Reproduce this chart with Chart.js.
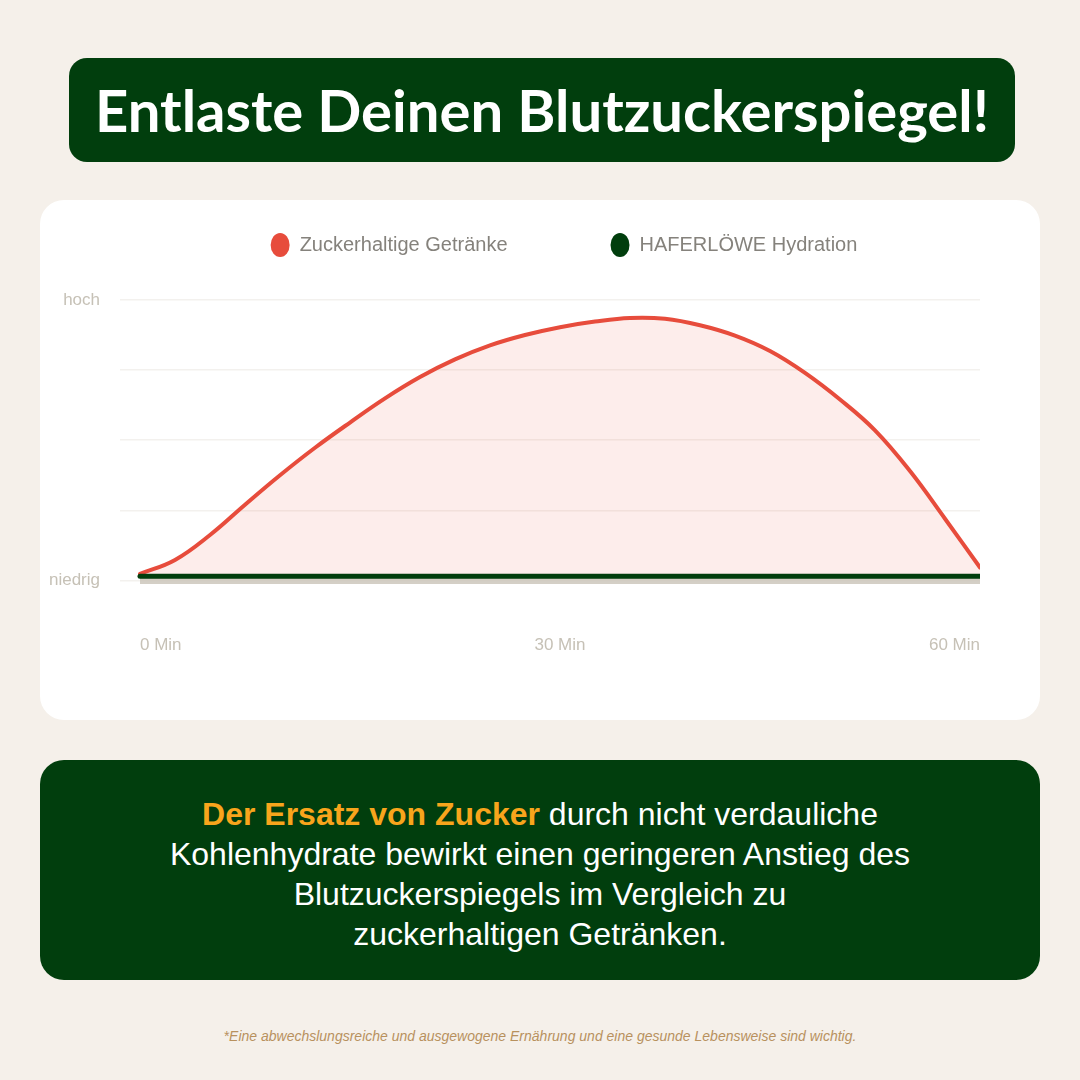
<!DOCTYPE html>
<html lang="de">
<head>
<meta charset="utf-8">
<title>Entlaste Deinen Blutzuckerspiegel!</title>
<script src="https://cdn.jsdelivr.net/npm/chart.js@4.4.1/dist/chart.umd.min.js"></script>
<style>
  html, body { margin: 0; padding: 0; }
  body {
    width: 1080px; height: 1080px; position: relative; overflow: hidden;
    background: #f5f0ea; font-family: "Liberation Sans", Arial, sans-serif;
  }
  .title {
    position: absolute; left: 69px; top: 58px; width: 946px; height: 104px;
    background: #013e0d; border-radius: 18px; color: #fff;
    display: flex; align-items: center; justify-content: center;
    font: 700 58px Lato, "Noto Sans", sans-serif; padding-bottom: 2px; box-sizing: border-box;
  }
  .card {
    position: absolute; left: 40px; top: 200px; width: 1000px; height: 520px;
    background: #fff; border-radius: 24px;
  }
  .chart-wrap { position: absolute; left: 40px; top: 132px; width: 1000px; height: 532px; }
  .note {
    position: absolute; left: 40px; top: 760px; width: 1000px; height: 220px;
    box-sizing: border-box; padding-top: 34px;
    background: #013e0d; border-radius: 24px; color: #fff;
    text-align: center; font-size: 32px; line-height: 40px;
  }
  .note b { color: #f8a51c; }
  .footer {
    position: absolute; left: 0; width: 1080px; top: 1028px;
    text-align: center; font-size: 14px; font-style: italic; color: #b8915e;
  }
</style>
</head>
<body>
<div class="title">Entlaste Deinen Blutzuckerspiegel!</div>
<div class="card"></div>
<div class="chart-wrap"><canvas id="chart"></canvas></div>
<div class="note">
  <b>Der Ersatz von Zucker</b> durch nicht verdauliche<br>
  Kohlenhydrate bewirkt einen geringeren Anstieg des<br>
  Blutzuckerspiegels im Vergleich zu<br>
  zuckerhaltigen Getränken.
</div>
<div class="footer">*Eine abwechslungsreiche und ausgewogene Ernährung und eine gesunde Lebensweise sind wichtig.</div>

<script>
// Minutes after drinking, every 2.5 minutes.
const minutes = [0, 2.5, 5, 7.5, 10, 12.5, 15, 17.5, 20, 22.5, 25, 27.5, 30,
                 32.5, 35, 37.5, 40, 42.5, 45, 47.5, 50, 52.5, 55, 57.5, 60];
const sugaryDrinks = [2.3, 7.3, 16.2, 27, 37.5, 47.3, 56.3, 64.9, 72.5, 78.8, 83.8, 87.5, 90.3,
                      92.3, 93.6, 93.3, 91.0, 87.3, 81.8, 74, 64.5, 53.5, 39, 22, 4.6];
const haferloewe = [1.5, 1.5, 1.5, 1.5, 1.5, 1.5, 1.5, 1.5, 1.5, 1.5, 1.5, 1.5, 1.5,
                    1.5, 1.5, 1.5, 1.5, 1.5, 1.5, 1.5, 1.5, 1.5, 1.5, 1.5, 1.5];

const seriesNames = ["Zuckerhaltige Getränke", "HAFERLÖWE Hydration"];

const xTickValues = [0, 30, 60];
const xTickLabels = ["0 Min", "30 Min", "60 Min"];
const yTickValues = [0, 25, 50, 75, 100];
const yTickLabels = ["niedrig", "", "", "", "hoch"];

const RED = "#e74c3c";
const GREEN = "#013e0d";
const TICK_GREY = "#c6c1b6";

// legend sits higher than Chart.js would put it: add a gap below it and
// nudge it right so the two entries line up with the reference
const legendSpacing = {
  id: "legendSpacing",
  beforeLayout(chart) {
    const lg = chart.legend;
    if (!lg || lg._patched) return;
    const fit = lg.fit;
    lg.fit = function () { fit.call(this); this.height += 35; };
    lg._patched = true;
  },
  afterLayout(chart) {
    const lg = chart.legend;
    if (!lg) return;
    lg.left += 14;
    lg.right += 14;
  },
};

new Chart(document.getElementById("chart"), {
  type: "line",
  data: {
    labels: minutes,
    datasets: [
      {
        label: seriesNames[0],
        data: minutes.map((m, i) => ({ x: m, y: sugaryDrinks[i] })),
        borderColor: RED,
        backgroundColor: "rgba(231,76,60,0.1)",
        borderWidth: 4,
        borderCapStyle: "round",
        fill: "origin",
        tension: 0.4,
        pointRadius: 0,
        order: 1,
      },
      {
        label: seriesNames[1],
        data: minutes.map((m, i) => ({ x: m, y: haferloewe[i] })),
        borderColor: GREEN,
        backgroundColor: "rgba(205,199,188,0.85)",
        borderWidth: 5,
        borderCapStyle: "round",
        fill: { value: -1.3 },
        pointRadius: 0,
        order: 0,
      },
    ],
  },
  options: {
    responsive: true,
    maintainAspectRatio: false,
    animation: false,
    layout: { padding: { top: 0, left: 0, right: 60, bottom: 8 } },
    plugins: {
      tooltip: { enabled: false },
      legend: {
        position: "top",
        fullSize: false,
        labels: {
          usePointStyle: true,
          pointStyle: "circle",
          pointStyleWidth: 19,
          boxHeight: 17,
          padding: 103,
          color: "#85827c",
          font: { family: "'Liberation Sans', Arial, sans-serif", size: 20 },
          sort: (a, b) => a.datasetIndex - b.datasetIndex,
          generateLabels(chart) {
            return Chart.defaults.plugins.legend.labels.generateLabels(chart).map((item) => {
              item.fillStyle = item.strokeStyle;
              item.lineWidth = 0;
              return item;
            });
          },
        },
      },
    },
    scales: {
      x: {
        type: "linear",
        min: -10 / 7,
        max: 60,
        grid: { display: false },
        border: { display: false },
        afterFit: (scale) => { scale.height = 70; },
        afterBuildTicks: (scale) => { scale.ticks = xTickValues.map((v) => ({ value: v })); },
        ticks: {
          align: "inner",
          maxRotation: 0,
          padding: 41,
          color: TICK_GREY,
          font: { family: "'Liberation Sans', Arial, sans-serif", size: 17 },
          callback: (v) => xTickLabels[xTickValues.indexOf(v)],
        },
      },
      y: {
        min: -2,
        max: 100,
        afterFit: (scale) => { scale.width = 80; },
        afterBuildTicks: (scale) => { scale.ticks = yTickValues.map((v) => ({ value: v })); },
        grid: { color: "#f3f1ee", lineWidth: 1.5, drawTicks: false },
        border: { display: false },
        ticks: {
          padding: 20,
          color: TICK_GREY,
          font: { family: "'Liberation Sans', Arial, sans-serif", size: 17 },
          callback: (v) => yTickLabels[yTickValues.indexOf(v)],
        },
      },
    },
  },
  plugins: [legendSpacing],
});
</script>
</body>
</html>
